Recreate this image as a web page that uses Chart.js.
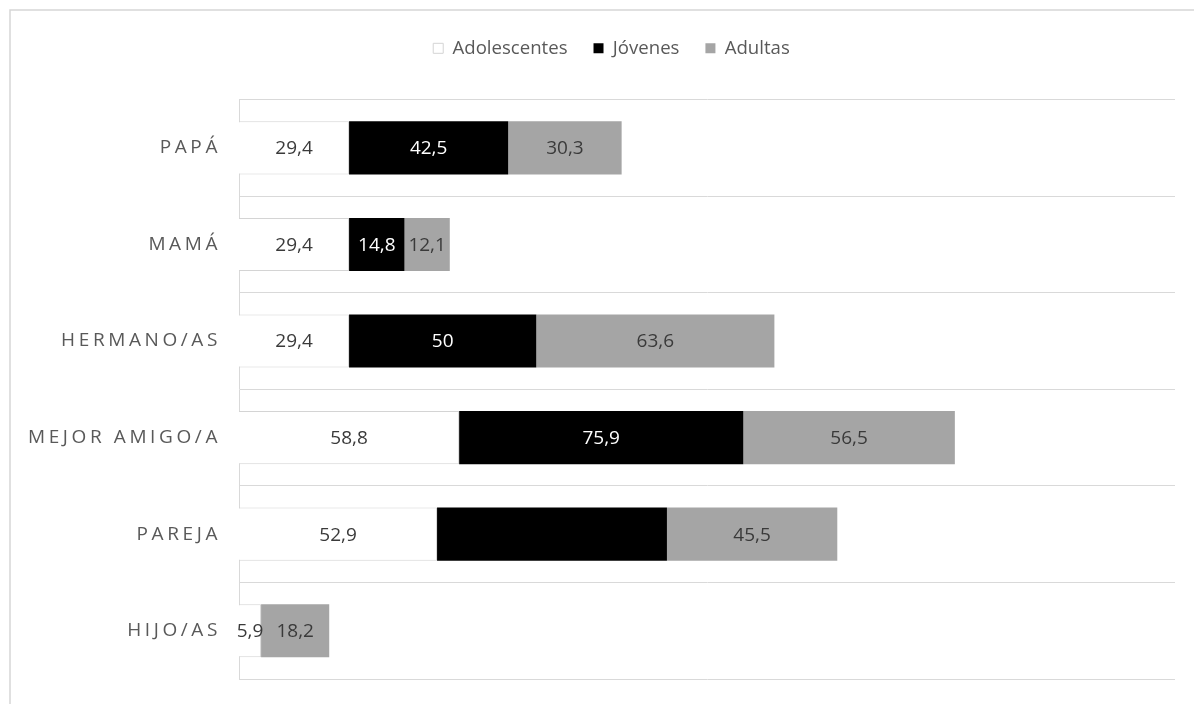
<!DOCTYPE html>
<html>
<head>
<meta charset="utf-8">
<script src="https://cdn.jsdelivr.net/npm/chart.js@4/dist/chart.umd.min.js"></script>
<style>
  html, body { margin: 0; padding: 0; background: #ffffff; }
  #wrap { width: 1194px; height: 704px; position: relative; }
</style>
</head>
<body>
<div id="wrap"><canvas id="c" width="1194" height="704"></canvas></div>
<script>
// ---- Data ----
const categories = ['PAPÁ', 'MAMÁ', 'HERMANO/AS', 'MEJOR AMIGO/A', 'PAREJA', 'HIJO/AS'];
const seriesNames = ['Adolescentes', 'Jóvenes', 'Adultas'];
const adolescentes = [29.4, 29.4, 29.4, 58.8, 52.9, 5.9];
const jovenes = [42.5, 14.8, 50, 75.9, 61.4, 0];
const adultas = [30.3, 12.1, 63.6, 56.5, 45.5, 18.2];
const xMin = 0;
const xMax = 250;
// value labels not printed in the original: [seriesIndex, categoryIndex]
const hiddenLabels = [[1, 4]];

// ---- Styles ----
const FONT = '"Open Sans", "Noto Sans", sans-serif';
const seriesFill = ['#ffffff', '#000000', '#a5a5a5'];
const seriesBorder = ['#d4d4d4', '#000000', '#a5a5a5'];
const seriesBorderWidth = [1, 0, 0];
const valueColors = ['#3a3a3a', '#ffffff', '#3a3a3a'];
const PAD_LEFT = 48;

const frame = {
  id: 'frame',
  beforeDraw(chart) {
    const ctx = chart.ctx;
    ctx.save();
    ctx.strokeStyle = '#d6d6d6';
    ctx.lineWidth = 1.5;
    ctx.beginPath();
    ctx.moveTo(10, 704);
    ctx.lineTo(10, 10);
    ctx.lineTo(1194, 10);
    ctx.stroke();
    ctx.restore();
    // letter-spaced, unclipped category labels
    const sc = chart.scales.y;
    if (sc && !sc._spaced) {
      const orig = sc.drawLabels.bind(sc);
      sc._computeLabelArea = function () { return undefined; };
      sc.drawLabels = function (area) {
        const c = chart.ctx;
        c.save();
        c.letterSpacing = '3.6px';
        c.translate(-10, 0);
        orig(area);
        c.restore();
      };
      sc._spaced = true;
    }
  }
};

const valueLabels = {
  id: 'valueLabels',
  afterDatasetsDraw(chart) {
    const ctx = chart.ctx;
    ctx.save();
    ctx.font = '19px ' + FONT;
    ctx.textAlign = 'center';
    ctx.textBaseline = 'middle';
    chart.data.datasets.forEach((ds, di) => {
      const meta = chart.getDatasetMeta(di);
      meta.data.forEach((el, i) => {
        const v = ds.data[i];
        if (!v) return;
        if (hiddenLabels.some(h => h[0] === di && h[1] === i)) return;
        const p = el.getCenterPoint();
        ctx.fillStyle = valueColors[di];
        ctx.fillText(String(v).replace('.', ','), p.x, p.y + 1);
      });
    });
    ctx.restore();
  }
};

const seriesData = [adolescentes, jovenes, adultas];

new Chart(document.getElementById('c'), {
  type: 'bar',
  data: {
    labels: categories,
    datasets: seriesData.map((d, i) => ({
      label: seriesNames[i],
      data: d,
      backgroundColor: seriesFill[i],
      borderColor: seriesBorder[i],
      borderWidth: seriesBorderWidth[i],
      borderSkipped: 'start',
      categoryPercentage: 1,
      barPercentage: 0.55
    }))
  },
  options: {
    indexAxis: 'y',
    responsive: false,
    animation: false,
    devicePixelRatio: 1,
    layout: { padding: { left: PAD_LEFT, right: 19, top: 13, bottom: 25 } },
    plugins: {
      tooltip: { enabled: false },
      legend: {
        display: true,
        position: 'top',
        labels: {
          color: '#595959',
          font: { family: FONT, size: 18.6 },
          boxWidth: 10,
          boxHeight: 10,
          padding: 26
        }
      }
    },
    scales: {
      x: {
        type: 'linear',
        stacked: true,
        position: 'top',
        min: xMin,
        max: xMax,
        ticks: { display: false },
        grid: { display: false },
        border: { display: false },
        afterFit(s) { s.height = 32; }
      },
      y: {
        type: 'category',
        stacked: true,
        grid: { display: true, offset: true, drawTicks: false, color: '#d9d9d9', lineWidth: 1 },
        border: { display: true, color: '#d9d9d9', width: 1 },
        ticks: {
          color: '#595959',
          font: { family: FONT, size: 19 },
          padding: 8
        },
        afterFit(s) { s.width = 239 - PAD_LEFT; }
      }
    }
  },
  plugins: [frame, valueLabels]
});
</script>
</body>
</html>
